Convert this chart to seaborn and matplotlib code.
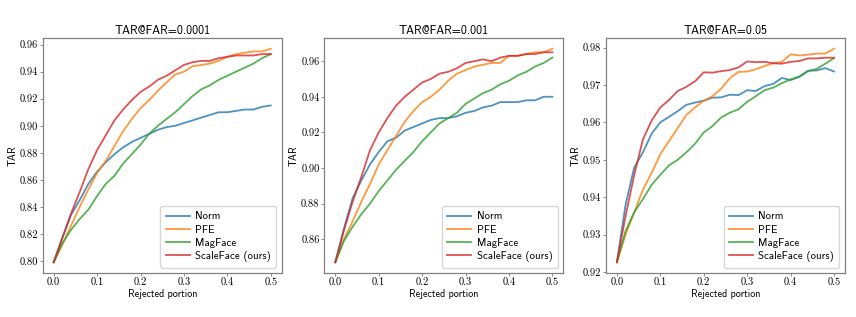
import matplotlib
matplotlib.use("Agg")
import matplotlib.pyplot as plt
import seaborn as sns
import pandas as pd
from matplotlib.ticker import MultipleLocator, FormatStrFormatter

# rejected portion 0.00 .. 0.50 in steps of 0.02
rejected = [0.00, 0.02, 0.04, 0.06, 0.08, 0.10, 0.12, 0.14, 0.16, 0.18, 0.20, 0.22, 0.24,
            0.26, 0.28, 0.30, 0.32, 0.34, 0.36, 0.38, 0.40, 0.42, 0.44, 0.46, 0.48, 0.50]

methods = ["Norm", "PFE", "MagFace", "ScaleFace (ours)"]
titles = ["TAR@FAR=0.0001", "TAR@FAR=0.001", "TAR@FAR=0.05"]

# TAR@FAR=0.0001
norm_1 = [0.799, 0.817, 0.834, 0.845, 0.857, 0.866, 0.873, 0.879, 0.884, 0.888, 0.891, 0.894, 0.897,
          0.899, 0.900, 0.902, 0.904, 0.906, 0.908, 0.910, 0.910, 0.911, 0.912, 0.912, 0.914, 0.915]
pfe_1 = [0.799, 0.812, 0.826, 0.840, 0.853, 0.865, 0.874, 0.885, 0.896, 0.905, 0.913, 0.919, 0.926,
         0.932, 0.938, 0.940, 0.944, 0.945, 0.946, 0.948, 0.951, 0.953, 0.954, 0.955, 0.955, 0.957]
mag_1 = [0.799, 0.813, 0.823, 0.831, 0.838, 0.848, 0.857, 0.863, 0.872, 0.879, 0.886, 0.894, 0.900,
         0.905, 0.910, 0.916, 0.922, 0.927, 0.930, 0.934, 0.937, 0.940, 0.943, 0.946, 0.950, 0.953]
scale_1 = [0.799, 0.817, 0.835, 0.851, 0.868, 0.882, 0.893, 0.904, 0.912, 0.919, 0.925, 0.929, 0.934,
           0.937, 0.941, 0.945, 0.947, 0.948, 0.948, 0.950, 0.951, 0.952, 0.952, 0.952, 0.953, 0.953]

# TAR@FAR=0.001
norm_2 = [0.847, 0.866, 0.883, 0.893, 0.902, 0.909, 0.915, 0.917, 0.921, 0.923, 0.925, 0.927, 0.928,
          0.928, 0.929, 0.931, 0.932, 0.934, 0.935, 0.937, 0.937, 0.937, 0.938, 0.938, 0.940, 0.940]
pfe_2 = [0.847, 0.860, 0.870, 0.881, 0.891, 0.902, 0.910, 0.918, 0.926, 0.932, 0.937, 0.940, 0.944,
         0.949, 0.953, 0.955, 0.957, 0.958, 0.959, 0.959, 0.963, 0.963, 0.964, 0.965, 0.965, 0.967]
mag_2 = [0.847, 0.859, 0.867, 0.874, 0.880, 0.887, 0.893, 0.899, 0.904, 0.909, 0.915, 0.920, 0.925,
         0.928, 0.931, 0.936, 0.939, 0.942, 0.944, 0.947, 0.949, 0.952, 0.954, 0.957, 0.959, 0.962]
scale_2 = [0.847, 0.865, 0.881, 0.895, 0.910, 0.920, 0.928, 0.935, 0.940, 0.944, 0.948, 0.950, 0.953,
           0.954, 0.956, 0.959, 0.960, 0.961, 0.960, 0.962, 0.963, 0.963, 0.964, 0.964, 0.965, 0.965]

# TAR@FAR=0.05
norm_3 = [0.9226, 0.938, 0.948, 0.952, 0.957, 0.960, 0.9615, 0.963, 0.9647, 0.9653, 0.9658, 0.9666, 0.9667,
          0.9674, 0.9673, 0.9686, 0.9684, 0.9697, 0.9703, 0.9719, 0.9713, 0.9722, 0.9738, 0.9739, 0.9745, 0.9736]
pfe_3 = [0.9226, 0.930, 0.936, 0.942, 0.9465, 0.9515, 0.955, 0.9585, 0.962, 0.964, 0.9658, 0.967, 0.969,
         0.9718, 0.9735, 0.9736, 0.9742, 0.9751, 0.9758, 0.9762, 0.9782, 0.9779, 0.9781, 0.9784, 0.9784, 0.9797]
mag_3 = [0.9226, 0.931, 0.936, 0.9395, 0.9433, 0.946, 0.9485, 0.950, 0.952, 0.9543, 0.9573, 0.959, 0.9613,
         0.9626, 0.9635, 0.9655, 0.967, 0.9686, 0.9693, 0.9705, 0.9715, 0.9722, 0.9737, 0.9743, 0.9757, 0.9772]
scale_3 = [0.9226, 0.935, 0.946, 0.9555, 0.9605, 0.964, 0.966, 0.9684, 0.9695, 0.971, 0.9734, 0.9733, 0.9737,
           0.974, 0.9747, 0.9763, 0.9761, 0.9762, 0.9758, 0.9757, 0.9762, 0.9764, 0.9771, 0.9771, 0.9773, 0.9773]

panels = [
    [norm_1, pfe_1, mag_1, scale_1],
    [norm_2, pfe_2, mag_2, scale_2],
    [norm_3, pfe_3, mag_3, scale_3],
]

# LaTeX-like look: CM sans for text, CM roman for tick numbers
plt.rcParams["font.family"] = ["cmss10", "DejaVu Sans"]
plt.rcParams["axes.formatter.use_mathtext"] = True

palette = dict(zip(methods, ["#1f77b4", "#ff7f0e", "#2ca02c", "#d62728"]))

fig = plt.figure(figsize=(8.56, 3.17), dpi=100)
lefts = [0.050, 0.379, 0.708]

for i, (title, series) in enumerate(zip(titles, panels)):
    ax = fig.add_axes([lefts[i], 0.139, 0.279, 0.741])
    rows = []
    for m, vals in zip(methods, series):
        for x, y in zip(rejected, vals):
            rows.append({"Rejected portion": x, "TAR": y, "method": m})
    df = pd.DataFrame(rows)
    sns.lineplot(data=df, x="Rejected portion", y="TAR", hue="method",
                 hue_order=methods, palette=palette, linewidth=1.3, alpha=0.8, ax=ax)
    ax.set_title(title, fontsize=8.5, pad=3)
    ax.set_xlabel("Rejected portion", fontsize=7.3, labelpad=1)
    ax.set_ylabel("TAR", fontsize=7.5, labelpad=1.5)
    ax.xaxis.set_major_locator(MultipleLocator(0.1))
    ax.xaxis.set_major_formatter(FormatStrFormatter("%.1f"))
    ax.yaxis.set_major_formatter(FormatStrFormatter("%.2f"))
    ax.tick_params(labelsize=7.5, length=2.5, width=0.6, color="#777777", pad=1)
    for lab in ax.get_xticklabels() + ax.get_yticklabels():
        lab.set_fontfamily(["cmr10", "DejaVu Serif"])
    for s in ax.spines.values():
        s.set_color("#808080")
        s.set_linewidth(0.9)
    leg = ax.legend(loc="lower right", fontsize=7.8, title=None, handlelength=2.2,
                    handletextpad=0.5, borderpad=0.5, labelspacing=0.3, borderaxespad=0.5)
    for line in leg.get_lines():
        line.set_linewidth(1.3)
        line.set_alpha(0.8)

fig.savefig("out.png", dpi=100)
